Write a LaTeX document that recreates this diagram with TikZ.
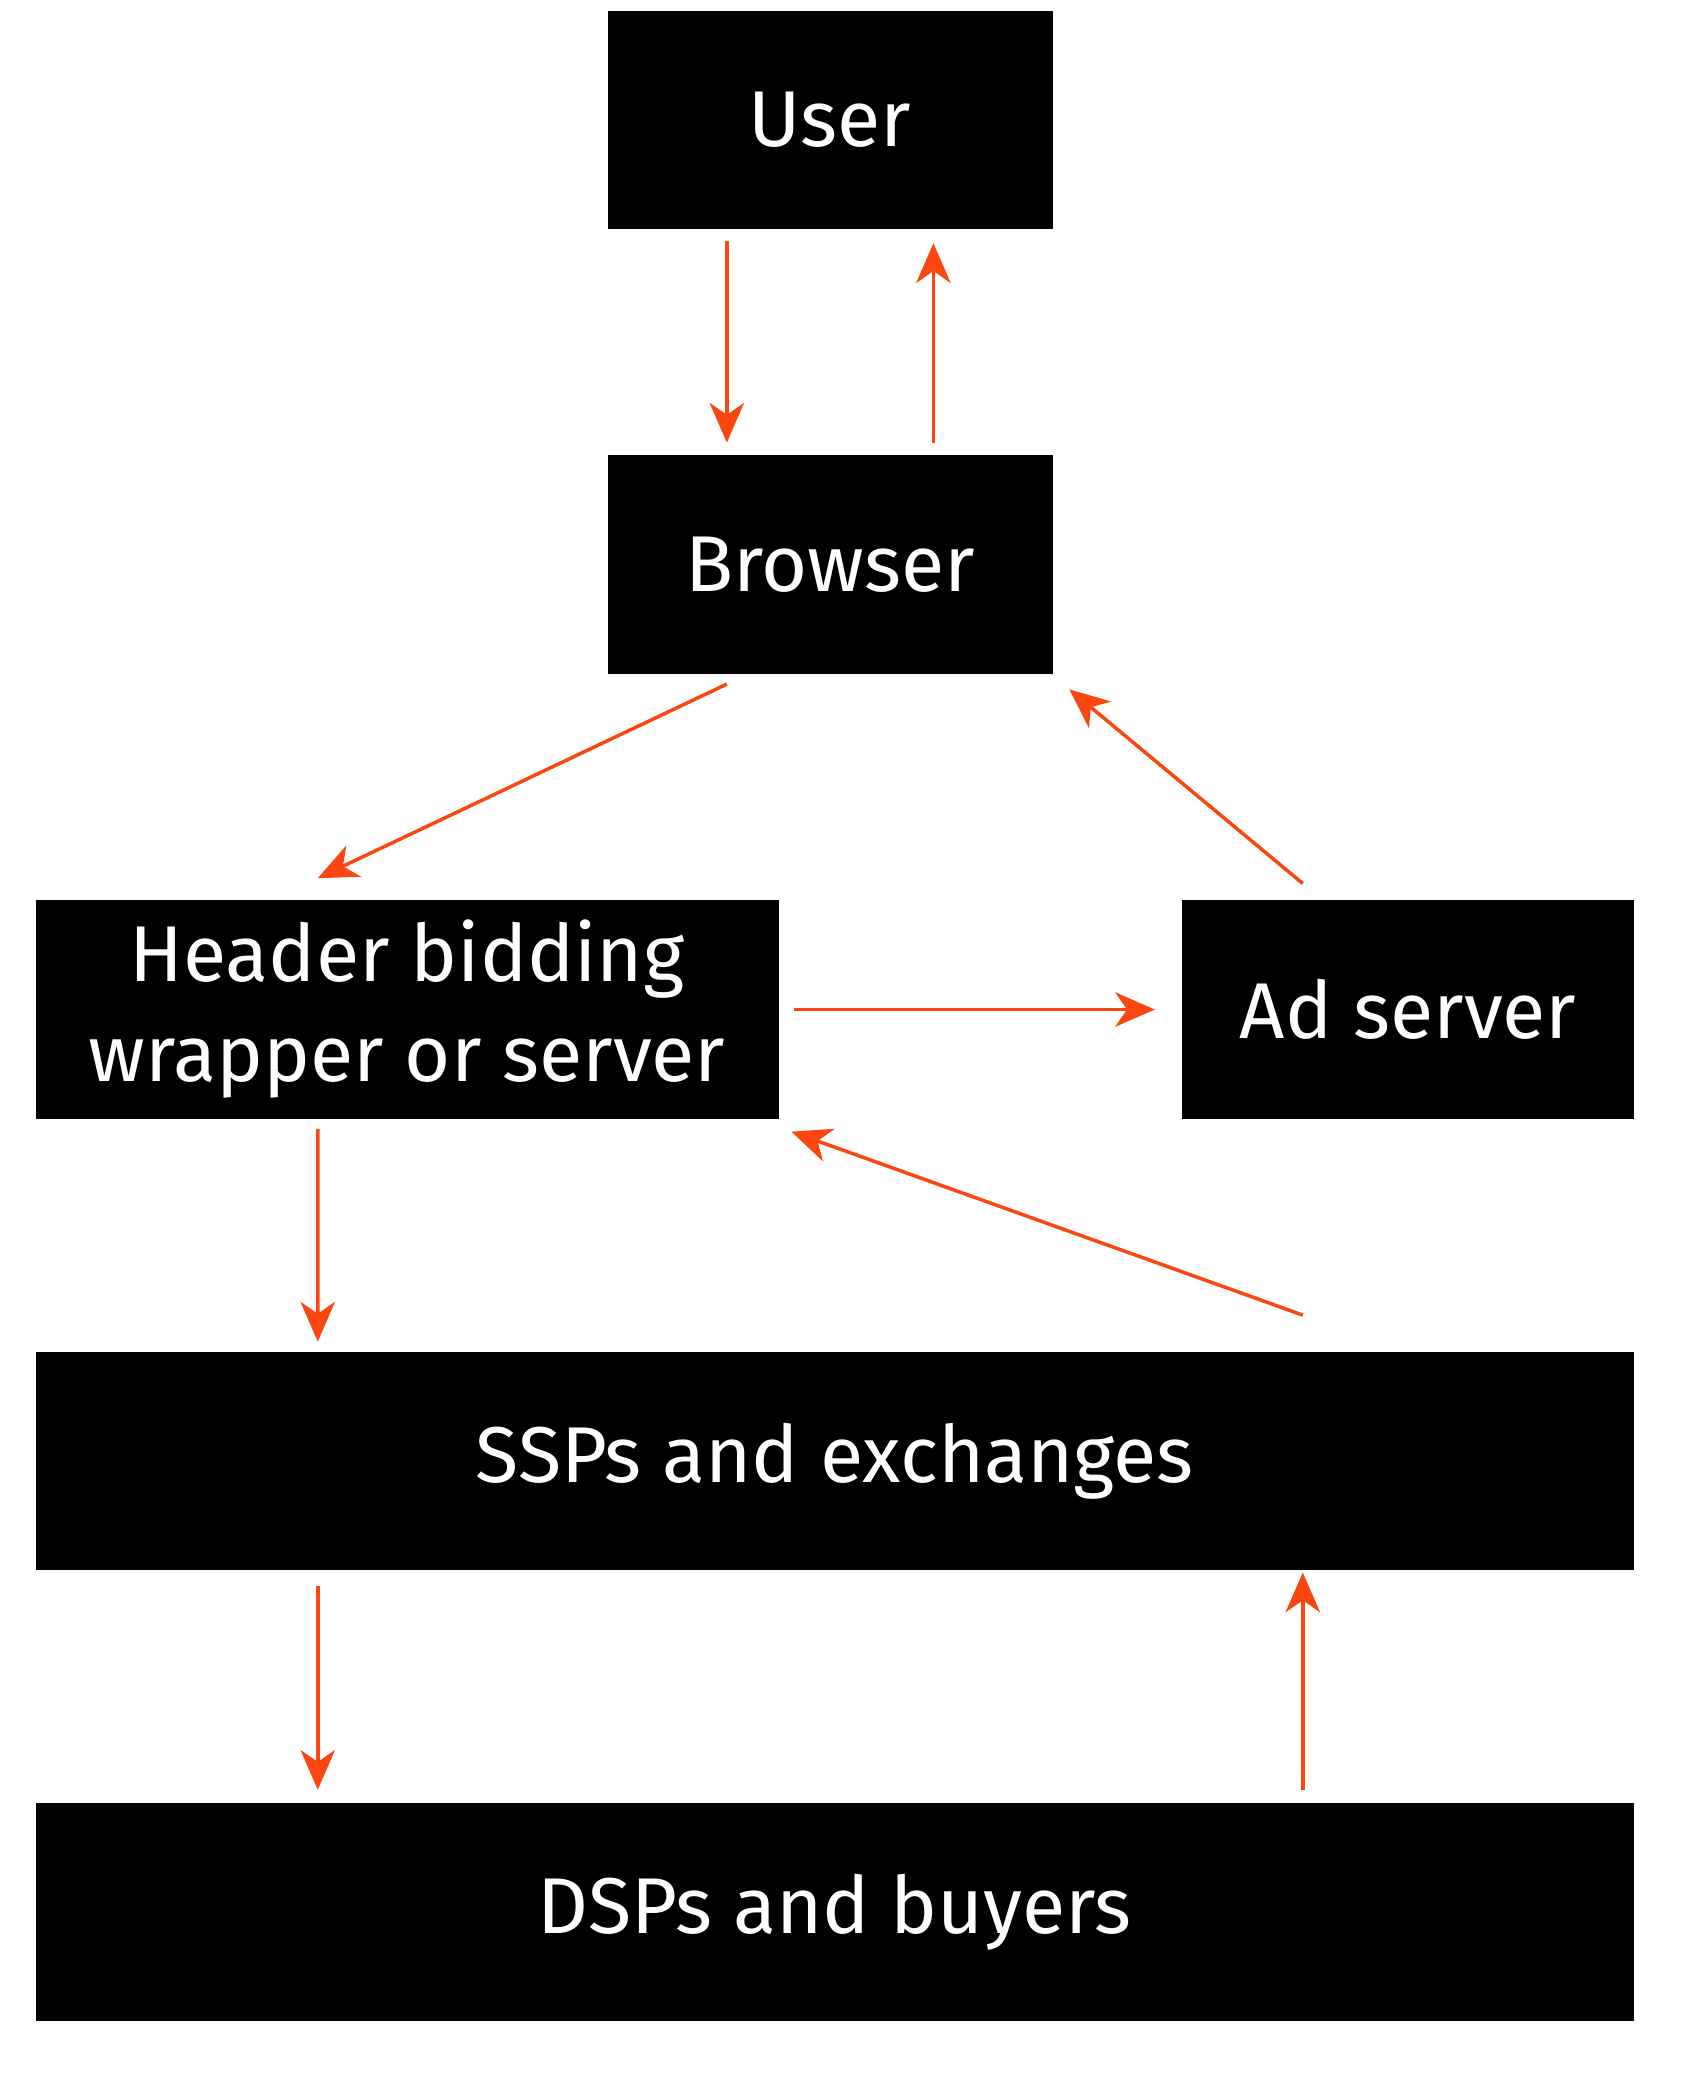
\documentclass[tikz,border=0pt]{standalone}
\usepackage{fontspec}
\setmainfont{Fira Sans}
\usetikzlibrary{positioning,arrows.meta}
\definecolor{flowred}{RGB}{252,70,15}

\begin{document}
\begin{tikzpicture}[font=\fontsize{17}{21.5}\selectfont,
  box/.style={fill=black, text=white, minimum height=1.65cm, inner sep=0pt, align=center},
  flow/.style={draw=flowred, line width=0.75pt, -{Stealth[length=3mm, width=2.6mm, inset=0.9mm]}, flowred}]
  \useasboundingbox (0,0) rectangle (12.87,-15.68);

  \node (user) [box, minimum width=3.36cm] at (6.27,-0.905) {User};
  \node (browser) [box, minimum width=3.36cm] at (6.27,-4.265) {Browser};
  \node (header) [box, minimum width=5.61cm] at (3.075,-7.625) {Header bidding\\wrapper or server};
  \node (adserver) [box, minimum width=3.41cm] at (10.635,-7.625) {Ad server};
  \node (ssp) [box, minimum width=12.07cm] at (6.305,-11.035) {SSPs and exchanges};
  \node (dsp) [box, minimum width=12.07cm] at (6.305,-14.44) {DSPs and buyers};

  \draw[flow] ([xshift=-0.78cm,yshift=-0.08cm]user.south) -- ([xshift=-0.78cm,yshift=0.09cm]browser.north);
  \draw[flow] ([xshift=0.78cm,yshift=0.09cm]browser.north) -- ([xshift=0.78cm,yshift=-0.1cm]user.south);
  \draw[flow] ([xshift=-0.78cm,yshift=-0.07cm]browser.south) -- ([xshift=-0.675cm,yshift=0.16cm]header.north);
  \draw[flow] ([xshift=-0.795cm,yshift=0.12cm]adserver.north) -- ([xshift=0.12cm,yshift=-0.11cm]browser.south east);
  \draw[flow] ([xshift=0.11cm]header.east) -- ([xshift=-0.2cm]adserver.west);
  \draw[flow] ([xshift=3.535cm,yshift=0.27cm]ssp.north) -- ([xshift=0.09cm,yshift=-0.09cm]header.south east);
  \draw[flow] ([xshift=-0.675cm,yshift=-0.07cm]header.south) -- ([xshift=-3.905cm,yshift=0.07cm]ssp.north);
  \draw[flow] ([xshift=-3.905cm,yshift=-0.11cm]ssp.south) -- ([xshift=-3.905cm,yshift=0.09cm]dsp.north);
  \draw[flow] ([xshift=3.535cm,yshift=0.09cm]dsp.north) -- ([xshift=3.535cm,yshift=-0.01cm]ssp.south);
\end{tikzpicture}
\end{document}
